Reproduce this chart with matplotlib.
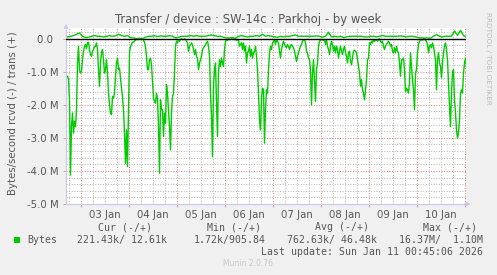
import numpy as np
import matplotlib
matplotlib.use("Agg")
import matplotlib.pyplot as plt
from matplotlib.ticker import MultipleLocator, FuncFormatter

# ---- data (M bytes/s), hours relative to 03 Jan 00:00 ----
rcvd_start_h = -6.5
rcvd_step_h = 0.5
rcvd = [
    1.14,1.22,1.85,4.12,2.66,2.25,2.86,2.50,2.66,2.15,
    0.74,0.23,0.94,1.04,0.99,0.64,0.38,0.23,0.18,0.31,
    0.13,0.11,0.33,0.48,0.54,0.38,0.33,0.23,0.23,0.13,
    0.33,0.94,1.44,0.74,0.43,0.33,0.64,1.04,0.94,0.64,
    1.04,1.65,2.0,2.25,2.3,1.75,1.8,1.65,1.14,0.74,
    0.59,0.94,0.89,1.19,1.5,1.75,2.15,2.86,3.77,2.76,
    3.87,2.05,0.43,0.23,0.18,0.11,0.11,0.08,0.03,0.03,
    0.01,0.03,0.01,0.01,0.01,0.01,0.05,0.11,0.25,0.54,
    0.94,0.94,0.64,0.59,0.79,1.29,1.8,1.9,1.95,1.65,
    1.85,2.66,4.07,1.85,2.15,2.15,2.96,
    2.25,2.56,1.39,1.65,2.15,2.66,3.36,2.25,1.75,1.65,
    1.04,0.23,0.08,0.13,0.03,0.08,0.03,0.01,0.03,0.03,
    0.01,0.03,0.08,0.13,0.38,0.23,0.18,0.13,0.18,0.33,
    0.48,0.33,0.54,0.59,0.94,0.74,0.64,0.54,0.33,0.28,
    0.23,0.18,0.13,0.08,0.23,0.54,1.65,2.35,3.57,1.44,
    0.94,0.74,1.95,2.96,1.04,0.64,0.84,0.59,0.74,0.84,
    0.33,0.08,0.03,0.05,0.01,0.03,0.03,0.01,0.03,0.01,
    0.03,0.03,0.05,0.03,0.05,0.23,0.18,0.13,0.33,0.13,
    0.38,0.23,0.74,0.43,0.38,0.23,0.54,0.33,0.59,0.43,
    0.38,0.23,0.54,0.94,1.65,2.45,2.76,1.85,1.5,1.55,
    3.16,
    2.15,1.55,1.65,0.94,0.43,0.23,0.33,0.13,0.08,0.03,
    0.18,0.03,0.08,0.13,0.38,0.59,0.33,0.18,0.08,0.18,
    0.23,0.28,0.18,0.23,0.33,0.21,0.18,0.23,0.28,0.38,
    0.54,0.69,0.54,0.43,0.33,0.23,0.18,0.08,0.05,0.03,
    0.13,0.38,0.43,0.59,0.64,0.94,2.0,1.04,0.64,1.24,
    1.9,0.94,0.74,0.23,0.08,0.05,0.03,0.03,0.05,0.03,
    0.18,0.03,0.23,0.33,0.48,0.23,0.08,0.18,0.38,0.23,
    0.43,0.23,0.33,0.59,0.38,0.23,0.38,0.48,0.33,0.23,
    0.43,0.54,0.74,0.43,0.38,0.69,0.79,0.59,0.38,0.35,
    0.38,0.43,0.64,0.84,1.04,1.44,1.24,1.55,1.65,1.85,
    1.55,1.24,0.64,0.59,0.13,0.18,0.08,0.13,0.03,0.08,
    0.05,0.03,0.08,0.03,0.01,0.08,0.13,0.08,0.23,0.33,
    0.23,0.18,0.13,0.08,0.13,0.23,0.18,0.38,0.43,0.28,
    0.43,0.23,0.38,0.43,0.74,1.14,0.64,0.64,0.59,0.94,
    1.6,1.5,1.55,1.65,1.34,0.43,0.84,1.24,1.55,2.15,
    1.04,0.94,0.43,0.18,0.08,0.03,0.03,0.05,0.01,0.01,
    0.05,0.08,0.18,0.43,0.23,0.18,0.28,0.13,0.23,0.43,
    0.64,1.55,0.64,0.43,0.74,0.84,1.19,0.74,0.43,0.23,
    0.13,0.33,0.64,1.34,2.05,2.66,1.65,1.04,0.94,1.85,
    2.25,2.76,3.01,2.86,2.45,1.65,1.55,1.65,1.04,0.74,
    0.59,0.84,
]

trans_start_h = -6.5
trans_step_h = 1.5
trans = [
    0.05,0.07,0.09,0.13,0.17,0.07,0.03,0.04,0.07,0.09,
    0.07,0.07,0.05,0.07,0.09,0.07,0.08,0.13,0.09,0.07,
    0.09,0.03,0.02,0.00,0.01,0.00,0.04,0.07,0.07,0.09,
    0.06,0.08,0.07,0.07,0.09,0.07,0.02,0.04,0.07,0.07,
    0.07,0.09,0.07,0.09,0.07,0.07,0.07,0.09,0.11,0.09,
    0.07,0.07,0.04,0.02,0.02,0.03,0.01,0.07,0.09,0.07,
    0.05,0.07,0.07,0.09,0.07,0.13,0.07,0.09,0.07,0.05,
    0.04,0.07,0.05,0.07,0.07,0.09,0.11,0.07,0.07,0.07,
    0.07,0.07,0.07,0.08,0.07,0.04,0.07,0.19,0.05,0.07,
    0.05,0.07,0.03,0.05,0.07,0.07,0.07,0.07,0.07,0.05,
    0.05,0.07,0.07,0.05,0.07,0.09,0.07,0.07,0.07,0.07,
    0.07,0.08,0.07,0.05,0.07,0.07,0.05,0.03,0.02,0.02,
    0.02,0.01,0.07,0.12,0.07,0.05,0.07,0.07,0.07,0.23,
    0.10,0.25,0.09,0.05,
]

x_start_h, x_end_h = -7.25, 192.75
y_min, y_max = -5.0, 0.32
day_labels = ["03 Jan", "04 Jan", "05 Jan", "06 Jan", "07 Jan", "08 Jan", "09 Jan", "10 Jan"]

title = "Transfer / device : SW-14c : Parkhoj - by week"
ylabel = "Bytes/second rcvd (-) / trans (+)"
legend_heads = ["Cur (-/+)", "Min (-/+)", "Avg (-/+)", "Max (-/+)"]
legend_vals = ["221.43k/ 12.61k", "1.72k/905.84", "762.63k/ 46.48k", "16.37M/  1.10M"]
last_update = "Last update: Sun Jan 11 00:45:06 2026"

# ---- figure ----
W, H = 497, 275
fig = plt.figure(figsize=(W / 100, H / 100), dpi=100, facecolor="#F0F0F0")
ax = fig.add_axes([66 / W, 1 - 204 / H, 400 / W, 176 / H])
ax.set_facecolor("white")

t_r = rcvd_start_h + rcvd_step_h * np.arange(len(rcvd))
t_t = trans_start_h + trans_step_h * np.arange(len(trans))
green = "#00CC00"
ax.plot(t_r, -np.array(rcvd), color=green, lw=1.0, zorder=4)
ax.plot(t_t, np.array(trans), color=green, lw=1.0, zorder=4)
ax.axhline(0, color="black", lw=1.0, zorder=5)

ax.set_xlim(x_start_h, x_end_h)
ax.set_ylim(y_min, y_max)

ax.xaxis.set_major_locator(MultipleLocator(24))
ax.xaxis.set_minor_locator(MultipleLocator(6))
ax.yaxis.set_major_locator(MultipleLocator(1.0))
ax.yaxis.set_minor_locator(MultipleLocator(0.2))

ax.grid(which="minor", color="#BBBBBB", linestyle=(0, (1, 1.5)), lw=0.75, zorder=1)
ax.grid(which="major", color="#E08888", linestyle=(0, (1, 1.5)), lw=0.75, zorder=2)


def xminor_fmt(v, pos):
    d = int(round((v - 12) / 24))
    if abs(v - (12 + 24 * d)) < 1e-6 and 0 <= d < len(day_labels):
        return day_labels[d]
    return ""


ax.xaxis.set_major_formatter(FuncFormatter(lambda v, p: ""))
ax.xaxis.set_minor_formatter(FuncFormatter(xminor_fmt))


def yfmt(v, pos):
    if abs(v) < 1e-9:
        return "0.0  "
    return "%.1f M" % v


ax.yaxis.set_major_formatter(FuncFormatter(yfmt))
ax.tick_params(axis="x", which="major", length=2, color="#E08888", width=0.6)
ax.tick_params(axis="x", which="minor", length=0, labelsize=7.3, labelcolor="#555555", pad=4)
ax.tick_params(axis="y", which="major", length=2, color="#E08888", width=0.6,
               labelsize=7.3, labelcolor="#555555", pad=3)
ax.tick_params(axis="y", which="minor", length=0)

for s in ["top", "right"]:
    ax.spines[s].set_visible(False)
for s in ["left", "bottom"]:
    ax.spines[s].set_color("#C8C8EE")
    ax.spines[s].set_linewidth(0.8)

# axis arrows
ax.annotate("", xy=(1.018, 0), xytext=(0.99, 0), xycoords="axes fraction",
            arrowprops=dict(arrowstyle="-|>", color="#C8C8EE", lw=0.8, mutation_scale=6))
ax.annotate("", xy=(0, 1.04), xytext=(0, 0.99), xycoords="axes fraction",
            arrowprops=dict(arrowstyle="-|>", color="#C8C8EE", lw=0.8, mutation_scale=6))

fig.text(0.5, 1 - 19 / H, title, ha="center", va="center", fontsize=8.4, color="#555555")
fig.text(13 / W, 1 - 113 / H, ylabel, ha="center", va="center", rotation=90,
         fontsize=7.3, color="#555555")
fig.text(488 / W, 1 - 58 / H, "RRDTOOL / TOBI OETIKER", ha="center", va="center",
         rotation=270, fontsize=5.2, color="#BBBBBB")

mono = "DejaVu Sans Mono"
fs = 7.1
tc = "#555555"
for lbl, x in zip(legend_heads, [98, 207, 315, 423]):
    fig.text(x / W, 1 - 227 / H, lbl, ha="left", va="center", family=mono, fontsize=fs, color=tc)
fig.patches.append(plt.Rectangle((14 / W, 1 - 243 / H), 6 / W, 6 / H, transform=fig.transFigure,
                                 facecolor=green, edgecolor="none"))
fig.text(27 / W, 1 - 240 / H, "Bytes", ha="left", va="center", family=mono, fontsize=fs, color=tc)
for lbl, x in zip(legend_vals, [77, 194, 287, 399]):
    fig.text(x / W, 1 - 240 / H, lbl, ha="left", va="center", family=mono, fontsize=fs, color=tc)
fig.text(483 / W, 1 - 252 / H, last_update, ha="right", va="center", family=mono, fontsize=fs, color=tc)
fig.text(248 / W, 1 - 264 / H, "Munin 2.0.76", ha="center", va="center", fontsize=5.5, color="#C8C8C8")

fig.savefig("out.png", dpi=100, facecolor=fig.get_facecolor())
